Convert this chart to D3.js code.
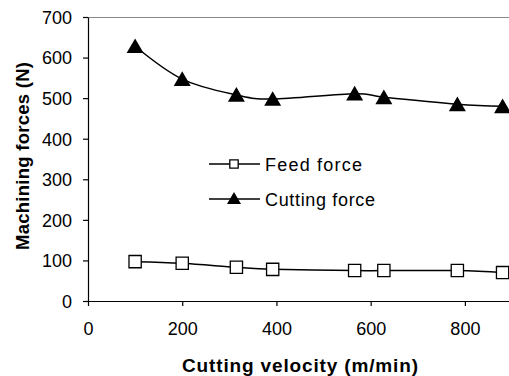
<!DOCTYPE html>
<html>
<head>
<meta charset="utf-8">
<script src="https://cdn.jsdelivr.net/npm/d3@7"></script>
<style>
  html, body { margin: 0; padding: 0; background: #fff; }
  svg { display: block; }
  text { font-family: "Liberation Sans", Arial, sans-serif; fill: #000; }
</style>
</head>
<body>
<svg id="chart" width="509" height="376"></svg>
<script>
// Cutting velocity (m/min) for each measurement
const velocity = [100, 200, 315, 392, 566, 628, 784, 880];
// Feed force (N)
const feedForce = [97, 93, 83, 78, 75, 75, 75, 70];
// Cutting force (N)
const cuttingForce = [628, 547, 508, 498, 511, 502, 485, 480];

const xTicks = [0, 200, 400, 600, 800];
const yTicks = [0, 100, 200, 300, 400, 500, 600, 700];
const seriesNames = ["Feed force", "Cutting force"];

const svg = d3.select("#chart");
const margin = { left: 88, top: 17, right: 512, bottom: 301 };

const x = d3.scaleLinear().domain([0, 900]).range([margin.left, margin.right]);
const y = d3.scaleLinear().domain([0, 700]).range([margin.bottom, margin.top]);

// plot frame (top edge grey)
svg.append("line")
  .attr("x1", margin.left).attr("x2", margin.right)
  .attr("y1", margin.top + 0.5).attr("y2", margin.top + 0.5)
  .attr("stroke", "#888").attr("stroke-width", 1.2);

// axes
const xAxis = svg.append("g")
  .attr("transform", `translate(0,${margin.bottom})`)
  .call(d3.axisBottom(x).tickValues(xTicks).tickSize(5).tickSizeOuter(0).tickPadding(16));
const yAxis = svg.append("g")
  .attr("transform", `translate(${margin.left},0)`)
  .call(d3.axisLeft(y).tickValues(yTicks).tickSize(5).tickSizeOuter(0).tickPadding(11));

[xAxis, yAxis].forEach(g => {
  g.select(".domain").attr("stroke", "#000").attr("stroke-width", 1.2);
  g.selectAll(".tick line").attr("stroke", "#000").attr("stroke-width", 1.2);
  g.selectAll(".tick text")
    .style("font-family", '"Liberation Sans", Arial, sans-serif')
    .style("font-size", "18px").attr("fill", "#000");
});
yAxis.selectAll(".tick text").attr("dy", "0.35em");

// axis titles
svg.append("text")
  .attr("x", 182).attr("y", 372)
  .attr("textLength", 236).attr("lengthAdjust", "spacing")
  .style("font-size", "19px").style("font-weight", "bold")
  .text("Cutting velocity (m/min)");
svg.append("text")
  .attr("transform", "translate(29,250) rotate(-90)")
  .attr("textLength", 188).attr("lengthAdjust", "spacing")
  .style("font-size", "18.5px").style("font-weight", "bold")
  .text("Machining forces (N)");

// smoothed series lines
const line = d3.line()
  .x(d => x(d[0])).y(d => y(d[1]))
  .curve(d3.curveCardinal.tension(0));

const feedPts = velocity.map((v, i) => [v, feedForce[i]]);
const cutPts = velocity.map((v, i) => [v, cuttingForce[i]]);

svg.append("path").datum(feedPts).attr("d", line)
  .attr("fill", "none").attr("stroke", "#000").attr("stroke-width", 1.5);
svg.append("path").datum(cutPts).attr("d", line)
  .attr("fill", "none").attr("stroke", "#000").attr("stroke-width", 1.5);

const squareSym = d3.symbol().type(d3.symbolSquare).size(150);
const triSym = d3.symbol().type(d3.symbolTriangle).size(125);

svg.append("g").selectAll("path").data(feedPts).join("path")
  .attr("transform", d => `translate(${x(d[0])},${y(d[1])})`)
  .attr("d", squareSym)
  .attr("fill", "#fff").attr("stroke", "#000").attr("stroke-width", 1.3);
svg.append("g").selectAll("path").data(cutPts).join("path")
  .attr("transform", d => `translate(${x(d[0])},${y(d[1]) + 2})`)
  .attr("d", triSym)
  .attr("fill", "#000");

// legend
const legend = svg.append("g");
const legendRows = [
  { name: seriesNames[0], y: 164, width: 97 },
  { name: seriesNames[1], y: 199, width: 110 }
];
legendRows.forEach((r, i) => {
  legend.append("line")
    .attr("x1", 209).attr("x2", 260).attr("y1", r.y).attr("y2", r.y)
    .attr("stroke", "#000").attr("stroke-width", 1.5);
  if (i === 0) {
    legend.append("path")
      .attr("transform", `translate(234,${r.y})`)
      .attr("d", d3.symbol().type(d3.symbolSquare).size(70)())
      .attr("fill", "#fff").attr("stroke", "#000").attr("stroke-width", 1.3);
  } else {
    legend.append("path")
      .attr("transform", `translate(234,${r.y + 1})`)
      .attr("d", d3.symbol().type(d3.symbolTriangle).size(85)())
      .attr("fill", "#000");
  }
  legend.append("text")
    .attr("x", 265).attr("y", r.y + 6.5)
    .attr("textLength", r.width).attr("lengthAdjust", "spacing")
    .style("font-size", "18px")
    .text(r.name);
});
</script>
</body>
</html>
